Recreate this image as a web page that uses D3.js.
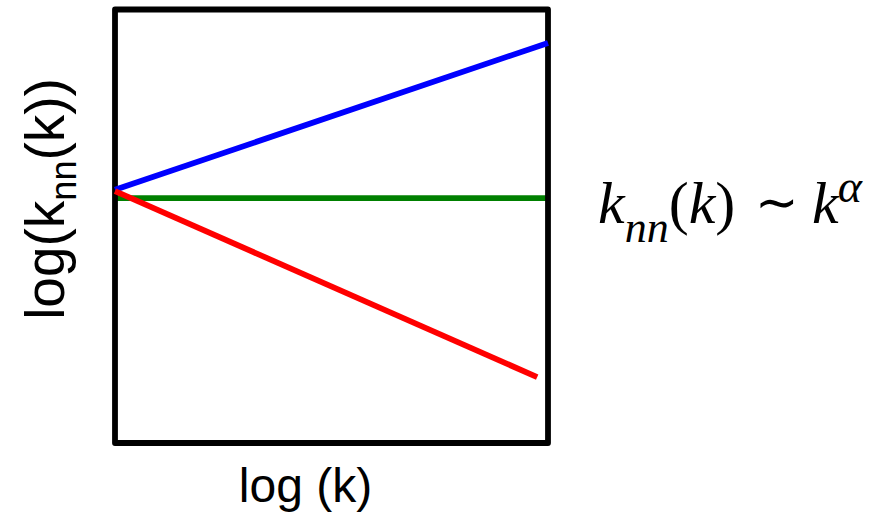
<!DOCTYPE html>
<html>
<head>
<meta charset="utf-8">
<script src="https://cdn.jsdelivr.net/npm/d3@7"></script>
<style>
  html, body { margin: 0; padding: 0; background: #fff; }
  svg { display: block; }
</style>
</head>
<body>
<svg id="chart" width="874" height="515"></svg>
<script>
// Schematic degree-correlation plot: log k_nn(k) against log k
const logK = [0, 1];                       // normalised log(k) range
const seriesNames = ["neutral", "assortative", "disassortative"];
const seriesColors = ["#008000", "#0000ff", "#ff0000"];
const neutralY = [56.5, 56.5];             // alpha = 0
const assortativeY = [58.4, 92.3];         // alpha > 0
const disassortativeX = [0, 0.975];
const disassortativeY = [58.1, 15.2];      // alpha < 0

const xLabel = "log (k)";

const svg = d3.select("#chart");
const frame = { left: 115, right: 548, top: 9.5, bottom: 443 };

const x = d3.scaleLinear().domain([0, 1]).range([frame.left, frame.right]);
const y = d3.scaleLinear().domain([0, 100]).range([frame.bottom, frame.top]);

const line = d3.line().x(d => x(d[0])).y(d => y(d[1]));

const series = [
  { name: seriesNames[0], color: seriesColors[0], pts: d3.zip(logK, neutralY) },
  { name: seriesNames[1], color: seriesColors[1], pts: d3.zip(logK, assortativeY) },
  { name: seriesNames[2], color: seriesColors[2], pts: d3.zip(disassortativeX, disassortativeY) }
];

// neutral line sits under the frame
svg.append("path")
  .attr("d", line(series[0].pts))
  .attr("fill", "none")
  .attr("stroke", series[0].color)
  .attr("stroke-width", 5.8);

// plot frame
svg.append("rect")
  .attr("x", x(0)).attr("y", y(100))
  .attr("width", x(1) - x(0)).attr("height", y(0) - y(100))
  .attr("fill", "none")
  .attr("stroke", "#000")
  .attr("stroke-width", 5.8)
  .attr("stroke-linejoin", "round");

series.slice(1).forEach(s => {
  svg.append("path")
    .attr("d", line(s.pts))
    .attr("fill", "none")
    .attr("stroke", s.color)
    .attr("stroke-width", 5.8);
});

// axis titles
svg.append("text")
  .attr("x", (x(0) + x(1)) / 2 - 26)
  .attr("y", 502)
  .attr("text-anchor", "middle")
  .attr("font-family", "Liberation Sans, Arial, sans-serif")
  .attr("font-size", 48)
  .text(xLabel);

const yt = svg.append("text")
  .attr("transform", "translate(64,199) rotate(-90)")
  .attr("text-anchor", "middle")
  .attr("font-family", "Liberation Sans, Arial, sans-serif")
  .attr("font-size", 55);
yt.append("tspan").text("log(k");
yt.append("tspan").attr("font-size", 36).attr("dy", 12).text("nn");
yt.append("tspan").attr("dy", -12).text("(k))");

// scaling relation k_nn(k) ~ k^alpha
const serif = "Liberation Serif, Times New Roman, serif";
const lhs = svg.append("text")
  .attr("x", 598)
  .attr("y", 223)
  .attr("font-family", serif)
  .attr("font-size", 60);
lhs.append("tspan").attr("font-style", "italic").text("k");
lhs.append("tspan").attr("font-style", "italic").attr("font-size", 44).attr("dy", 19).text("nn");
lhs.append("tspan").attr("dy", -19).text("(");
lhs.append("tspan").attr("font-style", "italic").text("k");
lhs.append("tspan").text(")");

svg.append("text")
  .attr("x", 755)
  .attr("y", 220)
  .attr("font-family", serif)
  .attr("font-size", 52)
  .text("∼");

const rhs = svg.append("text")
  .attr("x", 812)
  .attr("y", 223)
  .attr("font-family", serif)
  .attr("font-style", "italic")
  .attr("font-size", 60);
rhs.append("tspan").text("k");
rhs.append("tspan").attr("font-size", 46).attr("dy", -21).attr("dx", -1).text("α");
</script>
</body>
</html>
